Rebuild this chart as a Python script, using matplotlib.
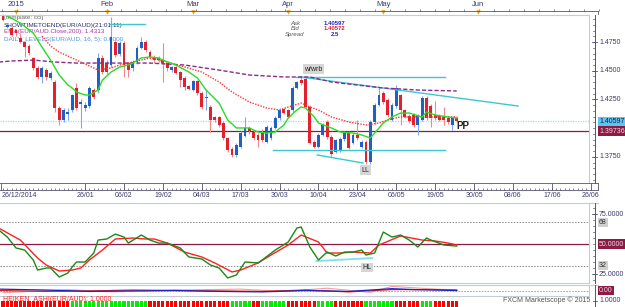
import matplotlib
matplotlib.use("Agg")
import matplotlib.pyplot as plt
from matplotlib.lines import Line2D
from matplotlib.transforms import blended_transform_factory
import numpy as np

plt.rcParams["font.family"] = ["Liberation Sans", "DejaVu Sans"]

W, H = 625, 307

# ---- EUR/AUD daily candles (bar index 0 = 30/12/2014) ----
opens = [1.4976, 1.4880, 1.4872, 1.4854, 1.4785, 1.4750, 1.4715, 1.4610, 1.4524, 1.4445,
         1.4506, 1.4437, 1.4402, 1.4176, 1.4071, 1.4120, 1.4158, 1.4350, 1.4210, 1.4176,
         1.4193, 1.4332, 1.4332, 1.4610, 1.4570, 1.4550, 1.4750, 1.4650, 1.4740, 1.4570,
         1.4524, 1.4575, 1.4700, 1.4750, 1.4663, 1.4620, 1.4593, 1.4593, 1.4567, 1.4506,
         1.4530, 1.4490, 1.4437, 1.4367, 1.4332, 1.4410, 1.4306, 1.4260, 1.4185, 1.4097,
         1.4097, 1.4045, 1.3915, 1.3820, 1.3767, 1.3840, 1.3935, 1.4002, 1.3967, 1.3941,
         1.3967, 1.3880, 1.3915, 1.4002, 1.4089, 1.4167, 1.4158, 1.4158, 1.4350, 1.4419,
         1.4430, 1.4185, 1.3880, 1.3840, 1.3941, 1.4054, 1.3923, 1.3795, 1.3810, 1.3906,
         1.3958, 1.3871, 1.3941, 1.3840, 1.3880, 1.3706, 1.4054, 1.4202, 1.4306, 1.4245,
         1.4071, 1.4193, 1.4289, 1.4158, 1.4110, 1.4115, 1.4028, 1.4071, 1.4263, 1.4193,
         1.4115, 1.4110, 1.4097, 1.4089, 1.4028, 1.4089]
highs = [1.4990, 1.4915, 1.4890, 1.4860, 1.4830, 1.4760, 1.4730, 1.4620, 1.4540, 1.4540,
         1.4520, 1.4500, 1.4420, 1.4190, 1.4180, 1.4176, 1.4300, 1.4390, 1.4250, 1.4230,
         1.4370, 1.4350, 1.4655, 1.4640, 1.4590, 1.4970, 1.4770, 1.4760, 1.4760, 1.4580,
         1.4590, 1.4715, 1.4793, 1.4765, 1.4680, 1.4640, 1.4630, 1.4741, 1.4580, 1.4545,
         1.4545, 1.4500, 1.4450, 1.4376, 1.4420, 1.4420, 1.4320, 1.4332, 1.4200, 1.4110,
         1.4110, 1.4060, 1.3925, 1.3835, 1.3870, 1.3975, 1.4097, 1.4020, 1.3980, 1.3955,
         1.3990, 1.4030, 1.4020, 1.4105, 1.4180, 1.4180, 1.4170, 1.4365, 1.4415, 1.4445,
         1.4445, 1.4200, 1.3895, 1.3955, 1.4045, 1.4070, 1.3940, 1.3910, 1.3920, 1.3975,
         1.3975, 1.3955, 1.4071, 1.3895, 1.3895, 1.4070, 1.4215, 1.4360, 1.4320, 1.4260,
         1.4215, 1.4376, 1.4300, 1.4170, 1.4120, 1.4130, 1.4120, 1.4280, 1.4280, 1.4210,
         1.4240, 1.4120, 1.4185, 1.4100, 1.4100, 1.4110]
lows = [1.4930, 1.4870, 1.4800, 1.4800, 1.4740, 1.4620, 1.4640, 1.4510, 1.4430, 1.4393,
        1.4420, 1.4420, 1.4140, 1.4028, 1.4050, 1.4071, 1.4140, 1.4158, 1.4000, 1.4150,
        1.4180, 1.4250, 1.4310, 1.4470, 1.4470, 1.4530, 1.4620, 1.4630, 1.4445, 1.4445,
        1.4500, 1.4560, 1.4690, 1.4660, 1.4600, 1.4570, 1.4580, 1.4402, 1.4500, 1.4490,
        1.4470, 1.4360, 1.4332, 1.4330, 1.4320, 1.4290, 1.4170, 1.4158, 1.3967, 1.4050,
        1.4010, 1.3900, 1.3790, 1.3750, 1.3745, 1.3830, 1.3920, 1.3950, 1.3900, 1.3840,
        1.3880, 1.3870, 1.3900, 1.3990, 1.4070, 1.4120, 1.4085, 1.4140, 1.4340, 1.4380,
        1.4170, 1.3860, 1.3825, 1.3825, 1.3930, 1.3910, 1.3750, 1.3780, 1.3795, 1.3890,
        1.3815, 1.3860, 1.3900, 1.3825, 1.3690, 1.3690, 1.4040, 1.4190, 1.4210, 1.4100,
        1.4060, 1.4180, 1.4028, 1.4085, 1.4045, 1.4010, 1.3941, 1.4060, 1.4070, 1.4010,
        1.4070, 1.4060, 1.4028, 1.4040, 1.3984, 1.4050]
closes = [1.4941, 1.4900, 1.4811, 1.4828, 1.4750, 1.4706, 1.4654, 1.4524, 1.4445, 1.4524,
          1.4445, 1.4480, 1.4176, 1.4071, 1.4158, 1.4140, 1.4289, 1.4176, 1.4228, 1.4202,
          1.4350, 1.4270, 1.4610, 1.4490, 1.4490, 1.4793, 1.4637, 1.4740, 1.4550, 1.4506,
          1.4575, 1.4700, 1.4750, 1.4680, 1.4620, 1.4593, 1.4610, 1.4567, 1.4524, 1.4530,
          1.4480, 1.4419, 1.4360, 1.4341, 1.4410, 1.4306, 1.4185, 1.4275, 1.4071, 1.4071,
          1.4028, 1.3915, 1.3810, 1.3767, 1.3854, 1.3958, 1.4002, 1.3975, 1.3915, 1.3897,
          1.3897, 1.4010, 1.4002, 1.4089, 1.4158, 1.4132, 1.4097, 1.4350, 1.4402, 1.4393,
          1.4185, 1.3871, 1.3840, 1.3941, 1.4028, 1.3923, 1.3775, 1.3897, 1.3906, 1.3958,
          1.3830, 1.3941, 1.3915, 1.3880, 1.3706, 1.4054, 1.4202, 1.4289, 1.4228, 1.4115,
          1.4202, 1.4350, 1.4158, 1.4097, 1.4060, 1.4028, 1.4110, 1.4263, 1.4089, 1.4089,
          1.4089, 1.4071, 1.4071, 1.4054, 1.4089, 1.4060]

# moving averages (bar index, price)
green_ma_bars = [1, 4, 7, 9, 11, 13, 15, 16, 17, 19, 20, 22, 23, 25, 27, 29, 30, 32, 34, 36,
                 37, 40, 43, 45, 47, 50, 52, 54, 57, 59, 61, 63, 65, 66, 68, 69, 70, 72, 73, 76,
                 78, 81, 83, 85, 86, 88, 90, 92, 94, 97, 98, 100, 103, 105]
green_ma_vals = [1.4976, 1.4915, 1.4828, 1.4707, 1.4593, 1.4463, 1.4376, 1.4350, 1.4315, 1.4289,
                 1.4289, 1.4332, 1.4419, 1.4489, 1.4533, 1.4550, 1.4567, 1.4611, 1.4620, 1.4611,
                 1.4593, 1.4550, 1.4489, 1.4437, 1.4332, 1.4219, 1.4071, 1.4002, 1.4002, 1.3967,
                 1.3958, 1.3967, 1.4028, 1.4089, 1.4158, 1.4185, 1.4176, 1.4098, 1.4045, 1.4002,
                 1.3967, 1.3958, 1.3941, 1.3915, 1.3958, 1.4045, 1.4098, 1.4132, 1.4132, 1.4098,
                 1.4141, 1.4115, 1.4098, 1.4089]
red_ma_bars = [9, 11, 13, 17, 21, 22, 25, 27, 30, 34, 38, 42, 46, 50, 53, 57, 61, 64, 66, 69,
               71, 73, 76, 80, 84, 87, 89, 92, 96, 100, 105]
red_ma_vals = [1.4802, 1.4715, 1.4663, 1.4593, 1.4524, 1.4506, 1.4524, 1.4550, 1.4576, 1.4611,
               1.4576, 1.4533, 1.4489, 1.4402, 1.4315, 1.4228, 1.4176, 1.4158, 1.4185, 1.4219,
               1.4185, 1.4158, 1.4098, 1.4054, 1.4028, 1.4045, 1.4071, 1.4098, 1.4098, 1.4098,
               1.4098]
ema200_bars = [-1, 2, 7, 12, 17, 22, 30, 34, 42, 50, 57, 65, 71, 76, 84, 88, 96, 105]
ema200_vals = [1.4576, 1.4585, 1.4593, 1.4576, 1.4567, 1.4567, 1.4567, 1.4567, 1.4550, 1.4506,
               1.4463, 1.4446, 1.4446, 1.4402, 1.4367, 1.4350, 1.4332, 1.4324]

ask_level = 1.40597
pp_level = 1.39736

# hand-drawn cyan trendlines: (bar0, price0, bar1, price1)
trendlines = [(24.8, 1.4907, 32.9, 1.4907),
              (67.8, 1.4446, 102.3, 1.4446),
              (68.8, 1.4446, 119.2, 1.4193),
              (62.5, 1.3810, 102.3, 1.3810),
              (72.7, 1.3767, 83.3, 1.3697)]

price_ticks = [1.3750, 1.4250, 1.4500, 1.4750]

# oscillator (CCI template) lines
osc_green_bars = [-1, 1, 3, 5, 7, 8, 10, 11, 13, 15, 16, 17, 19, 21, 22, 24, 26, 28, 29, 32,
                  34, 36, 38, 41, 43, 46, 48, 50, 52, 54, 56, 59, 60, 63, 66, 68, 69, 71, 73, 75,
                  77, 79, 81, 83, 84, 86, 88, 90, 92, 94, 96, 98, 99, 102, 105]
osc_green_vals = [61.7, 55.8, 46.7, 45.0, 36.7, 28.3, 30.0, 30.0, 22.5, 25.8, 30.8, 35.0, 35.0,
                  42.5, 53.3, 54.2, 58.3, 55.8, 50.8, 57.5, 53.3, 50.8, 50.8, 46.7, 39.2, 37.5,
                  32.5, 30.0, 21.7, 24.2, 35.0, 34.2, 36.7, 45.0, 51.7, 63.3, 64.2, 47.5, 36.7,
                  43.3, 40.0, 43.3, 43.3, 45.0, 40.8, 42.5, 60.0, 55.8, 57.5, 53.3, 47.5, 55.0,
                  53.3, 49.2, 48.3]
osc_red_bars = [-1, 4, 8, 10, 13, 16, 18, 20, 23, 26, 30, 33, 35, 38, 42, 46, 49, 53, 55, 59,
                62, 66, 69, 73, 75, 78, 81, 85, 87, 92, 97, 100, 103, 105]
osc_red_vals = [63.3, 53.3, 38.3, 32.5, 27.5, 28.3, 30.0, 36.7, 45.0, 54.2, 55.0, 54.2, 54.2,
                50.8, 43.3, 39.2, 34.2, 26.7, 28.3, 34.2, 40.8, 49.2, 57.5, 51.7, 42.5, 42.5,
                43.3, 42.5, 49.2, 56.7, 53.3, 52.5, 50.8, 49.2]
hl_line = (72.5, 35.8, 85.4, 38.3)

# small sub-panel lines
sub_blue_bars = [-1, 10, 20, 30, 40, 50, 60, 70, 80, 90, 95, 100, 105]
sub_blue_vals = [0.3, 0.1, -0.2, -0.1, 0.0, -0.2, -0.3, 0.0, -0.2, 0.4, 0.2, 0.1, 0.0]
sub_red_bars = [-1, 10, 20, 30, 40, 50, 60, 70, 80, 90, 100, 105]
sub_red_vals = [0.0, -0.2, -0.1, 0.1, 0.0, -0.1, -0.2, 0.1, -0.3, 0.2, 0.2, 0.1]
sub_pink_bars = [0, 15, 25, 40, 55, 65, 75, 85, 90, 100, 105]
sub_pink_vals = [-0.5, 0.2, -0.3, 0.1, 0.3, -0.2, 0.5, -0.4, 0.9, 0.3, 0.1]

# Heiken Ashi colour per bar
ha_colors = ("RRRRRRRRRRRRRRRR" "GGGGGGGGGGGGGGGGGG" "RRRRRRRRRRRRRRRRRRR" "GGGGG" "RR"
             "GGGGGG" "RRRRRRR" "GGGG" "RRRRRRR" "GGGGGGG" "RRRRRR" "GGG" "RRRRRR")

# axis labels
month_bars = [3, 24, 44, 66, 88, 110]
month_labels = ["2015", "Feb", "Mar", "Apr", "May", "Jun"]
date_bars = [19, 28, 37, 46, 55, 64, 73, 82, 91, 100, 109, 118, 127, 136]
date_labels = ["26/01", "06/02", "19/02", "04/03", "17/03", "30/03", "10/04", "23/04",
               "06/05", "19/05", "30/05", "08/06", "17/06", "26/06"]

BULL = "#1f5fc8"
BEAR = "#e3202b"
FRAME = "#c5ccd8"
AXC = "#55556a"
TXT = "#3a3a6a"
MAROON = "#8b1a45"

fig = plt.figure(figsize=(W / 100, H / 100), dpi=100)
fig.patch.set_facecolor("white")


def add_ax(x0, y0, x1, y1):
    a = fig.add_axes([x0 / W, 1 - y1 / H, (x1 - x0) / W, (y1 - y0) / H])
    a.set_axis_off()
    a.patch.set_alpha(0)
    return a


def fline(x0, y0, x1, y1, color=FRAME, lw=0.8, **kw):
    fig.add_artist(Line2D([x0 / W, x1 / W], [1 - y0 / H, 1 - y1 / H],
                          transform=fig.transFigure, color=color, lw=lw, **kw))


def ftext(x, y, s, **kw):
    kw.setdefault("fontsize", 5)
    kw.setdefault("va", "center")
    return fig.text(x / W, 1 - y / H, s, **kw)


XLIM = (-0.7, 135.6)
PW = 589.0  # panel width in px
SPX = 595.0  # right scale spine


def right_scale(a, majors, labels, minors, y0, y1):
    bt = blended_transform_factory(a.transAxes, a.transData)
    fline(SPX, y0, SPX, y1, color=AXC, lw=0.7)
    for v in minors:
        a.plot([(SPX - 2) / PW, SPX / PW], [v, v], transform=bt, color=AXC, lw=0.5, clip_on=False)
    for v, s in zip(majors, labels):
        a.plot([(SPX - 3) / PW, (SPX + 2) / PW], [v, v], transform=bt, color=AXC, lw=0.6,
               clip_on=False)
        a.text(599 / PW, v, s, transform=bt, fontsize=5, va="center", ha="left", color=TXT,
               clip_on=False)


def right_box(a, v, s, fc, tc):
    bt = blended_transform_factory(a.transAxes, a.transData)
    a.text(599 / PW, v, s, transform=bt, fontsize=5, va="center", ha="left", color=tc,
           clip_on=False, zorder=10,
           bbox=dict(boxstyle="square,pad=0.18", fc=fc, ec="none"))


# ---------------- top month strip ----------------
top = add_ax(0, 0, PW, 14)
top.set_xlim(*XLIM)
top.set_ylim(14, 0)
fline(0, 10.5, 598, 10.5, color=AXC, lw=0.6)
fline(598, 10.5, 598, 14, color=AXC, lw=0.6)
top.vlines(np.arange(-0.2, 138, 3.45), 8.5, 10.5, color=AXC, lw=0.5, clip_on=False)
for b, s in zip(month_bars, month_labels):
    top.text(b, 4, s, fontsize=5.5, ha="center", va="center", color=TXT)
top.plot(month_bars, [12.3] * len(month_bars), "v", color="#f29a1e", ms=3.2, mec="none",
         clip_on=False)

# ---------------- main price panel ----------------
ax = add_ax(0, 14, PW, 183)
ax.set_xlim(*XLIM)
ax.set_ylim(1.3523, 1.4994)
fline(0, 14.5, PW, 14.5)
fline(PW, 14.5, PW, 183)

o, hi, lo, c = (np.asarray(v) for v in (opens, highs, lows, closes))
xb = np.arange(len(c))
up = c >= o
ax.vlines(xb, lo, hi, colors=np.where(up, "#80a8e8", "#f08888"), lw=0.8, zorder=3)
ax.bar(xb, np.maximum(np.abs(c - o), 0.0004), bottom=np.minimum(o, c), width=0.66,
       color=np.where(up, BULL, BEAR), lw=0, zorder=4)

ax.axhline(ask_level, color="#9edcf6", lw=0.9, ls=(0, (1, 1)), zorder=2)
ax.axhline(pp_level, color=MAROON, lw=0.9, zorder=2)
for b0, p0, b1, p1 in trendlines:
    ax.plot([b0, b1], [p0, p1], color="#3cc8d2", lw=1.0, zorder=5)
ax.plot(ema200_bars, ema200_vals, color="#8a2a8a", lw=1.0, dashes=(3, 1.5), zorder=5)
ax.plot(red_ma_bars, red_ma_vals, color="#ff3535", lw=1.0, ls=(0, (1, 1)), zorder=5)
ax.plot(green_ma_bars, green_ma_vals, color="#28dc28", lw=1.0, zorder=6)

lbl_box = dict(boxstyle="square,pad=0.2", fc="#d6d6d6", ec="none")
ax.text(71.8, 1.4515, "w/wrb", fontsize=5, ha="center", va="center", color="#222222",
        bbox=lbl_box, zorder=7)
ax.text(83.8, 1.3636, "LL", fontsize=5, ha="center", va="center", color="#222222",
        bbox=lbl_box, zorder=7)
ax.text(106.3, 1.4019, "PP", fontsize=7, ha="center", va="center", color="#222222",
        fontweight="bold", zorder=7)

right_scale(ax, price_ticks, ["%.4f" % p for p in price_ticks],
            np.arange(1.355, 1.4951, 0.005), 14.5, 183)
right_box(ax, ask_level, "1.40597", "#5cc6f2", "#1a1a40")
right_box(ax, pp_level, "1.39736", MAROON, "#f0d8e0")

# indicator legend (under the candles)
leg = [("[template: cci]", "#666666"),
       ("SHOWTIMETOEND(EUR/AUD)(21:01:11)", "#2c2c6c"),
       ("EMA(EUR/AUD.Close,200): 1.4313", "#a03aa0"),
       ("DAILY_LEVELS(EUR/AUD, 16, 5): 0.0000", "#4a96e0")]
for k, (s, col) in enumerate(leg):
    ftext(4, 18 + 7 * k, s, color=col, fontsize=4.6, zorder=-1)

for k, (s, v, col) in enumerate([("Ask", "1.40597", "#2222cc"),
                                 ("Bid", "1.40572", "#e02020"),
                                 ("Spread", "2.5", "#2222cc")]):
    ftext(295, 23.5 + 5.5 * k, s, color="#555555", fontsize=4.3, style="italic", ha="center",
          zorder=-1)
    ftext(335, 23.5 + 5.5 * k, v, color=col, fontsize=4.3, fontweight="bold", ha="center",
          zorder=-1)

# ---------------- date ruler ----------------
rul = add_ax(0, 183, PW, 200)
rul.set_xlim(*XLIM)
rul.set_ylim(200, 183)
fline(0, 183, 598, 183, color=AXC, lw=0.6)
fline(0, 189.5, 598, 189.5, color=AXC, lw=0.6)
fline(0.5, 183, 0.5, 189.5, color=AXC, lw=0.6)
fline(598, 183, 598, 189.5, color=AXC, lw=0.6)
rul.vlines(np.arange(0, 137), 187.5, 189.5, color=AXC, lw=0.5, clip_on=False)
rul.vlines(date_bars, 183, 189.5, color=AXC, lw=0.6, clip_on=False)
for b, s in zip(date_bars, date_labels):
    rul.text(b, 195.5, s, fontsize=5, ha="center", va="center", color=TXT, clip_on=False)
ftext(2, 195.5, "26/12/2014", color=TXT, fontsize=5, ha="left")

# ---------------- oscillator panel ----------------
osc = add_ax(0, 203, PW, 283)
osc.set_xlim(*XLIM)
osc.set_ylim(17.5, 84.2)
fline(0, 202.5, 598, 202.5)
fline(PW, 202.5, PW, 283)
fline(0, 283, PW, 283)
osc.axhline(68, color="#888888", lw=0.7, ls=(0, (1.5, 1.5)), zorder=1)
osc.axhline(32, color="#888888", lw=0.7, ls=(0, (1.5, 1.5)), zorder=1)
osc.axhline(50, color=MAROON, lw=0.9, zorder=2)
osc.plot(osc_red_bars, osc_red_vals, color="#ff2020", lw=1.0, zorder=3)
osc.plot(osc_green_bars, osc_green_vals, color="#178a17", lw=1.0, zorder=4)
osc.plot([hl_line[0], hl_line[2]], [hl_line[1], hl_line[3]], color="#7fe0e8", lw=1.3, zorder=3)
osc.text(84.3, 30.5, "HL", fontsize=5, ha="center", va="center", color="#222222",
         bbox=lbl_box, zorder=7)
right_scale(osc, [25, 75], ["25.0000", "75.0000"], np.arange(20, 84, 5), 202.5, 283)
right_box(osc, 68, "68", "#d0d0d0", "#333333")
right_box(osc, 32, "32", "#d0d0d0", "#333333")
right_box(osc, 50, "50.0000", MAROON, "#f0d8e0")

# ---------------- small sub panel ----------------
sub = add_ax(0, 285, PW, 296)
sub.set_xlim(*XLIM)
sub.set_ylim(-1.2, 1.2)
fline(0, 285, 598, 285)
fline(0, 296, PW, 296)
fline(PW, 285, PW, 296)
sub.axhline(0, color="#999999", lw=0.6, ls=(0, (2, 1.5)))
sub.plot(sub_pink_bars, sub_pink_vals, color="#f4a0a0", lw=0.8)
sub.plot(sub_red_bars, sub_red_vals, color="#e02020", lw=0.9)
sub.plot(sub_blue_bars, sub_blue_vals, color="#2020c8", lw=0.9)
fline(SPX, 285, SPX, 296, color=AXC, lw=0.7)
right_box(sub, 0, "0.00", MAROON, "#f0d8e0")

# ---------------- Heiken Ashi strip ----------------
ha = add_ax(0, 297, PW, 307)
ha.set_xlim(*XLIM)
ha.set_ylim(0, 1)
ha.bar(np.arange(len(ha_colors)), 0.62, bottom=0, width=0.72,
       color=["#ff0000" if ch == "R" else "#00ee00" for ch in ha_colors], lw=0)
ftext(3, 299.5, "HEIKEN_ASHI(EUR/AUD): 1.0000", color="#ff2020", fontsize=5, ha="left",
      zorder=5)
ftext(590, 300.5, "FXCM Marketscope \u00a9 2015", color="#555555", fontsize=5, ha="right")
fline(SPX, 297, SPX, 307, color=AXC, lw=0.7)
fline(SPX - 2, 301, SPX + 2, 301, color=AXC, lw=0.6)
ftext(599, 301, "1.0000", color=TXT, fontsize=5, ha="left")

fig.savefig("out.png", dpi=100)
